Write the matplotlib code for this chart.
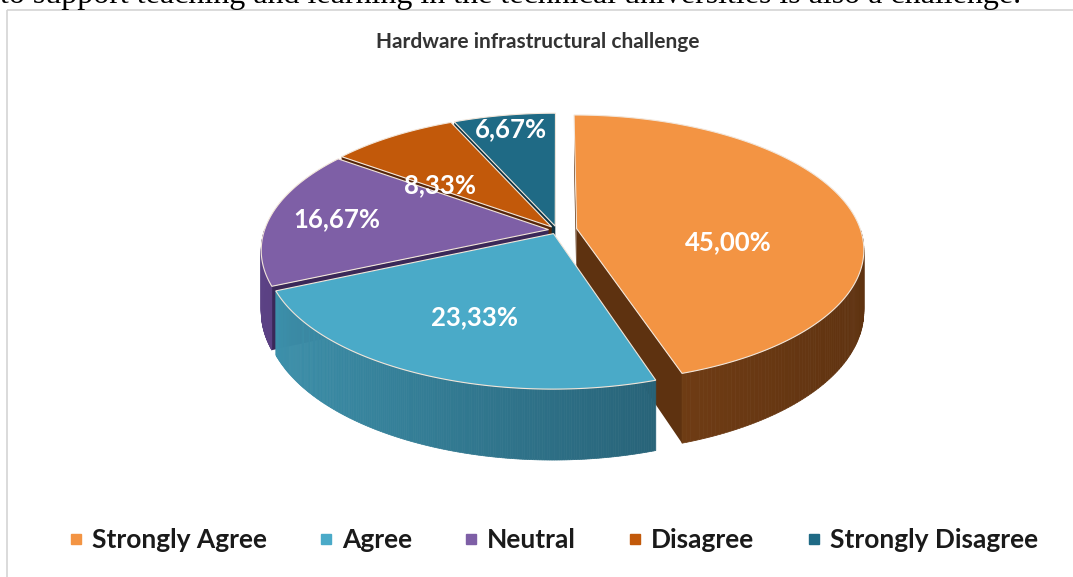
import numpy as np
import matplotlib.pyplot as plt
from matplotlib.patches import Polygon, Rectangle
from matplotlib.lines import Line2D
from matplotlib.colors import to_rgb

# data
categories = ['Strongly Agree', 'Agree', 'Neutral', 'Disagree', 'Strongly Disagree']
values = [45.00, 23.33, 16.67, 8.33, 6.67]
labels = ['45,00%', '23,33%', '16,67%', '8,33%', '6,67%']

# styling
top_colors = ['#F39443', '#4AAAC8', '#7E5FA6', '#C2590A', '#1F6A85']
side_light = ['#8E4E1C', '#3E93AE', '#5C4285', '#7E3A08', '#1B5569']
side_dark = ['#5E3210', '#1C4A5C', '#3A2858', '#55260A', '#0F3342']
explode = [0.07, 0.03, 0.03, 0.03, 0.03]
label_r = [0.55, 0.62, 0.76, 0.68, 0.86]
label_dy = [25, 2, 0, 22, 0]

# pseudo-3d projection: unit disc -> pixels, with perspective k
cx, cy, rx, ry, depth, k = 557, 230, 284, 131, 60, 0.15

fig = plt.figure(figsize=(10.73, 5.77), dpi=100)
ax = fig.add_axes([0, 0, 1, 1])
ax.set_xlim(0, 1073)
ax.set_ylim(577, 0)
ax.axis('off')

# chart border
ax.add_patch(Rectangle((7, 10), 1100, 600, fill=False, ec='#D4D4D4', lw=1.2))

# text line from the page above the chart (cut off at the top, as in the source)
fig.text(0.0, 1 - 3 / 577, 'to support teaching and learning in the technical universities is also a challenge.',
         family='Liberation Serif', fontsize=23, va='baseline', ha='left', color='black')

ax.text(538, 42, 'Hardware infrastructural challenge', family='Lato', fontweight='bold',
        fontsize=15, color='#333333', ha='center', va='center')


def proj(u, v, z=0.0):
    w = 1 + k * v
    return (cx + rx * u / w, cy - ry * v / w + depth * z / w)


def shade(i, t):
    f = 0.5 - 0.5 * np.cos(t)  # lighter on the left
    a = np.array(to_rgb(side_dark[i]))
    b = np.array(to_rgb(side_light[i]))
    return tuple(a + (b - a) * f)


total = sum(values)
angles = []
start = np.pi / 2
for v in values:
    sweep = 2 * np.pi * v / total
    angles.append((start, start - sweep))
    start -= sweep

order = sorted(range(len(values)), key=lambda i: -np.sin((angles[i][0] + angles[i][1]) / 2))

for i in order:
    t1, t2 = angles[i]
    mid = (t1 + t2) / 2
    ou, ov = explode[i] * np.cos(mid), explode[i] * np.sin(mid)

    def p(t, r=1.0, z=0.0):
        return proj(ou + r * np.cos(t), ov + r * np.sin(t), z)

    c_top, c_bot = proj(ou, ov), proj(ou, ov, 1)

    # radial cut faces facing the viewer
    for t, n in ((t1, t1 + np.pi / 2), (t2, t2 - np.pi / 2)):
        if np.sin(n) < 0.02:
            face = [c_top, p(t), p(t, z=1), c_bot]
            ax.add_patch(Polygon(face, closed=True, fc=side_dark[i], ec='none', zorder=2))

    # outer wall, front part only
    ts = np.linspace(t1, t2, 200)
    for a, b in zip(ts[:-1], ts[1:]):
        if np.sin((a + b) / 2) < 0:
            quad = [p(a), p(b), p(b, z=1), p(a, z=1)]
            col = shade(i, (a + b) / 2)
            ax.add_patch(Polygon(quad, closed=True, fc=col, ec=col, lw=0.5, zorder=2))

    # top face
    arc = [p(t) for t in ts]
    ax.add_patch(Polygon([c_top] + arc, closed=True, fc=top_colors[i], ec='#F2E6DA', lw=0.8, zorder=3))

    lx, ly = p(mid, r=label_r[i])
    ax.text(lx, ly + label_dy[i], labels[i], family='Lato', fontweight='bold', fontsize=18.5,
            color='white', ha='center', va='center', zorder=4)

handles = [Line2D([], [], ls='none', marker='s', markersize=7, color=c) for c in top_colors]
fig.legend(handles, categories, loc='center', bbox_to_anchor=(0.514, 1 - 540 / 577), ncol=5,
           frameon=False, prop={'family': 'Lato', 'weight': 'bold', 'size': 19},
           handletextpad=0.2, columnspacing=1.85, handlelength=0.8, labelcolor='#1A1A1A')

fig.savefig('out.png', dpi=100)
